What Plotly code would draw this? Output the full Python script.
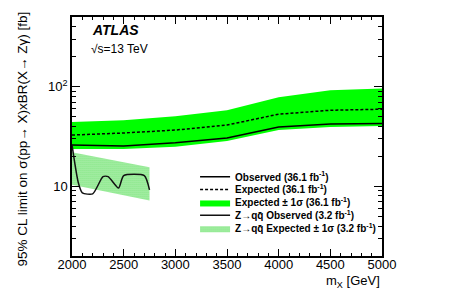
import plotly.graph_objects as go

# 36.1 fb-1 results
mass = [2000, 2500, 3000, 3500, 4000, 4500, 5000]
observed = [26.0, 25.4, 27.3, 30.6, 39.3, 42.1, 42.6]
expected = [32.7, 34.3, 36.7, 41.2, 53.0, 58.0, 59.4]
exp_up = [44.1, 46.1, 50.6, 58.0, 78.2, 91.8, 96.1]
exp_dn = [23.7, 23.7, 24.9, 28.5, 36.7, 39.3, 40.2]

# Z->qq 3.2 fb-1 results
zqq_mass = [2000, 2060, 2100, 2200, 2300, 2350, 2450, 2500, 2700, 2750]
zqq_obs = [26.0, 11.0, 8.6, 8.4, 12.5, 12.5, 9.6, 12.8, 12.8, 9.2]
zqq_band_mass = [2000, 2250, 2500, 2750]
zqq_up = [22.0, 19.5, 17.4, 15.5]
zqq_dn = [10.4, 9.2, 8.1, 7.2]

y_major = [10, 100]
y_major_text = ["10", "10<sup>2</sup>"]
y_minor = [2, 3, 4, 5, 6, 7, 8, 9, 20, 30, 40, 50, 60, 70, 80, 90, 200, 300, 400, 500]
x_ticks = [2000, 2500, 3000, 3500, 4000, 4500, 5000]

labels = [
    "Observed (36.1 fb<sup>-1</sup>)",
    "Expected (36.1 fb<sup>-1</sup>)",
    "Expected ± 1σ (36.1 fb<sup>-1</sup>)",
    "Z→qq\u0304 Observed (3.2 fb<sup>-1</sup>)",
    "Z→qq\u0304 Expected ± 1σ (3.2 fb<sup>-1</sup>)",
]

FONT = "Liberation Sans, Arial, Helvetica, sans-serif"
GREEN = "#00ff00"
HATCH = "#22d622"

fig = go.Figure()

# 36.1 band
fig.add_trace(go.Scatter(x=mass, y=exp_dn, mode="lines", line=dict(width=0, color=GREEN),
                         showlegend=False, hoverinfo="skip"))
fig.add_trace(go.Scatter(x=mass, y=exp_up, mode="lines", line=dict(width=0, color=GREEN),
                         fill="tonexty", fillcolor=GREEN, legend="legend3", name=labels[2]))
# Zqq band
fig.add_trace(go.Scatter(x=zqq_band_mass, y=zqq_dn, mode="lines", line=dict(width=0, color=HATCH),
                         showlegend=False, hoverinfo="skip"))
fig.add_trace(go.Scatter(x=zqq_band_mass, y=zqq_up, mode="lines", line=dict(width=0, color=HATCH),
                         fill="tonexty", fillcolor="rgba(0,0,0,0)",
                         fillpattern=dict(shape=".", fgcolor=HATCH, bgcolor="#c4f2c4",
                                          size=2, solidity=0.6),
                         legend="legend5", name=labels[4]))
# lines
fig.add_trace(go.Scatter(x=mass, y=expected, mode="lines",
                         line=dict(color="black", width=1.5, dash="3px,2px"),
                         legend="legend2", name=labels[1]))
fig.add_trace(go.Scatter(x=mass, y=observed, mode="lines",
                         line=dict(color="black", width=1.5), legend="legend", name=labels[0]))
fig.add_trace(go.Scatter(x=zqq_mass, y=zqq_obs, mode="lines",
                         line=dict(color="#111111", width=1.5, shape="spline", smoothing=0.6),
                         legend="legend4", name=labels[3]))

legend_rows_y = [0.332, 0.278, 0.224, 0.170, 0.116]


def legend_cfg(yv):
    return dict(x=0.397, y=yv, xanchor="left", yanchor="middle",
                bgcolor="rgba(0,0,0,0)", font=dict(size=10, weight="bold", family=FONT),
                itemwidth=30, tracegroupgap=0)


fig.update_layout(
    width=441, height=297,
    margin=dict(l=64, r=67, t=7, b=49),
    paper_bgcolor="white", plot_bgcolor="white",
    font=dict(family=FONT, color="black", size=13),
    legend=legend_cfg(legend_rows_y[0]),
    legend2=legend_cfg(legend_rows_y[1]),
    legend3=legend_cfg(legend_rows_y[2]),
    legend4=legend_cfg(legend_rows_y[3]),
    legend5=legend_cfg(legend_rows_y[4]),
    xaxis=dict(range=[2000, 5000], tickvals=x_ticks, ticks="inside", ticklen=7,
               tickcolor="black", tickwidth=1, showline=True, linecolor="black", linewidth=1.5,
               mirror="allticks", showgrid=False, zeroline=False,
               tickfont=dict(size=13), ticklabelstandoff=-4,
               minor=dict(dtick=100, ticks="inside", ticklen=3, tickcolor="black", showgrid=False)),
    yaxis=dict(type="log", range=[0.30103, 2.69897], tickvals=y_major, ticktext=y_major_text,
               ticks="inside", ticklen=8, tickcolor="black", tickwidth=1,
               showline=True, linecolor="black", linewidth=1.5, mirror="allticks",
               showgrid=False, zeroline=False, tickfont=dict(size=13),
               minor=dict(tickvals=y_minor, ticks="inside", ticklen=4, tickcolor="black",
                          showgrid=False)),
    showlegend=True,
)

annotations = [
    dict(text="m<sub>X</sub> [GeV]", xref="paper", yref="paper", x=1.0, y=-0.108,
         xanchor="right", yanchor="middle", showarrow=False, font=dict(size=13)),
    dict(text="95% CL limit on σ(pp→ X)xBR(X→ Zγ) [fb]", xref="paper", yref="paper",
         x=-0.161, y=0.488, textangle=-90, xanchor="center", yanchor="middle",
         showarrow=False, font=dict(size=13.5)),
    dict(text="<b><i>ATLAS</i></b>", xref="paper", yref="paper", x=0.058, y=0.946,
         xanchor="left", yanchor="middle", showarrow=False, font=dict(size=14)),
    dict(text="√s=13 TeV", xref="paper", yref="paper", x=0.055, y=0.867,
         xanchor="left", yanchor="middle", showarrow=False, font=dict(size=12)),
]
fig.update_layout(annotations=annotations)

fig.write_html("out.html")
